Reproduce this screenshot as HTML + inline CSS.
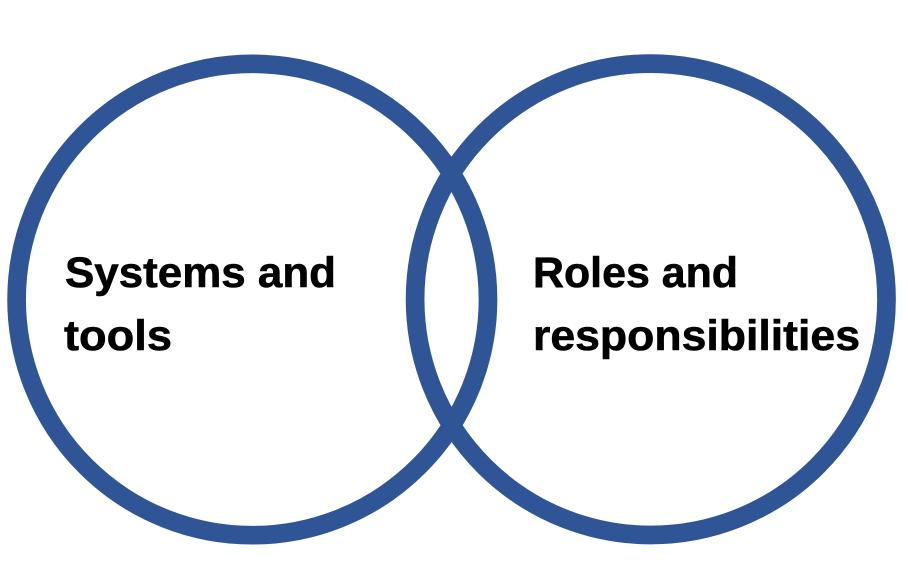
<!DOCTYPE html>
<html>
<head>
<meta charset="utf-8">
<style>
  html, body { margin: 0; padding: 0; background: #ffffff; }
  body { width: 908px; height: 586px; overflow: hidden; }
  svg { display: block; }
  text { font-family: "Liberation Sans", Arial, sans-serif; font-weight: bold; fill: #000000; stroke: #000000; stroke-width: 0.6; }
</style>
</head>
<body>
<svg width="908" height="586" viewBox="0 0 908 586" xmlns="http://www.w3.org/2000/svg">
  <rect x="0" y="0" width="908" height="586" fill="#ffffff"/>
  <circle cx="252.3" cy="299.5" r="235.7" fill="none" stroke="#2F5597" stroke-width="18.7"/>
  <circle cx="650.8" cy="299.3" r="235.7" fill="none" stroke="#2F5597" stroke-width="18.7"/>
  <text x="65" y="287" font-size="42.5" textLength="271" lengthAdjust="spacingAndGlyphs">Systems and</text>
  <text x="64" y="350" font-size="42.5" textLength="108" lengthAdjust="spacingAndGlyphs">tools</text>
  <text x="533" y="287" font-size="42.5" textLength="205" lengthAdjust="spacingAndGlyphs">Roles and</text>
  <text x="533" y="350" font-size="42.5" textLength="327" lengthAdjust="spacingAndGlyphs">responsibilities</text>
</svg>
</body>
</html>
